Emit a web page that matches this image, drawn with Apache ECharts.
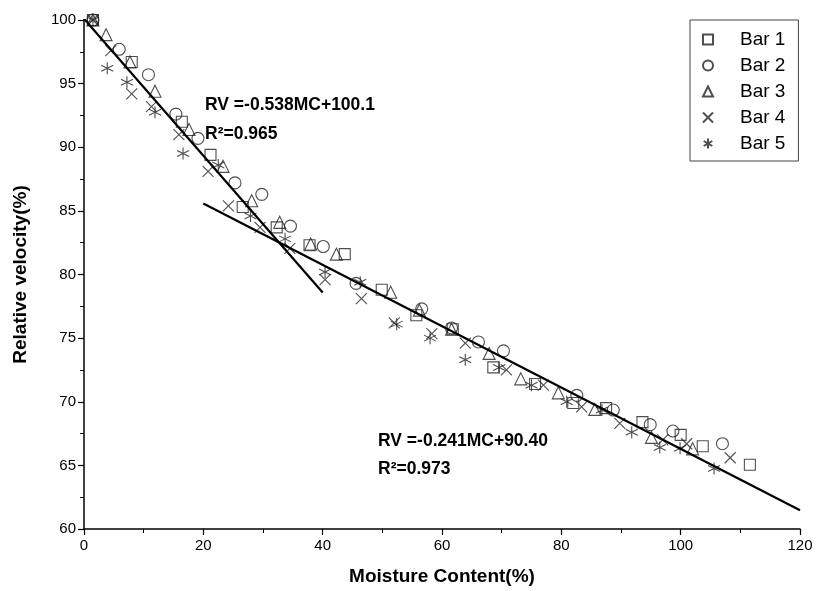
<!DOCTYPE html>
<html>
<head>
<meta charset="utf-8">
<script src="https://cdn.jsdelivr.net/npm/echarts@6/dist/echarts.min.js"></script>
<style>html,body{margin:0;padding:0;background:#fff}#c{width:817px;height:591px}</style>
</head>
<body>
<div id="c"></div>
<script>
var seriesNames = ['Bar 1', 'Bar 2', 'Bar 3', 'Bar 4', 'Bar 5'];
var bar1 = [[1.5,100],[8.0,96.7],[16.4,92.0],[21.2,89.4],[26.6,85.3],[32.3,83.7],[37.8,82.3],[43.7,81.6],[49.9,78.8],[55.7,76.8],[61.8,75.7],[68.6,72.7],[75.6,71.4],[82.0,69.9],[87.5,69.5],[93.6,68.4],[100.0,67.4],[103.7,66.5],[111.6,65.05]];
var bar2 = [[1.5,100],[5.9,97.7],[10.8,95.7],[15.4,92.6],[19.1,90.7],[25.3,87.2],[29.8,86.3],[34.6,83.8],[40.1,82.2],[45.6,79.3],[56.6,77.3],[61.6,75.8],[66.1,74.7],[70.3,74.0],[82.6,70.5],[88.7,69.35],[94.9,68.2],[98.7,67.7],[107.0,66.7]];
var bar3 = [[1.5,100],[3.7,98.85],[7.7,96.7],[11.9,94.4],[17.6,91.4],[23.3,88.5],[28.1,85.8],[32.8,84.1],[38.0,82.4],[42.3,81.6],[51.4,78.6],[56.2,77.2],[61.6,75.7],[67.9,73.8],[73.2,71.8],[79.5,70.7],[85.6,69.4],[95.1,67.2],[102.0,66.3]];
var bar4 = [[1.5,100],[4.5,97.6],[8.0,94.2],[11.3,93.2],[15.9,91.0],[20.8,88.1],[24.2,85.4],[29.5,83.7],[34.5,82.05],[40.4,79.6],[46.5,78.1],[52.0,76.2],[58.3,75.35],[63.9,74.6],[70.8,72.5],[77.0,71.3],[83.4,69.6],[89.8,68.3],[97.0,67.0],[101.0,66.7],[108.3,65.6]];
var bar5 = [[1.5,100],[3.9,96.2],[7.2,95.1],[11.9,92.75],[16.6,89.5],[22.5,88.6],[27.9,84.6],[33.7,82.8],[40.4,80.2],[46.3,79.4],[52.4,76.1],[58.0,75.0],[63.9,73.3],[69.6,72.7],[75.0,71.3],[80.9,70.0],[86.8,69.35],[91.8,67.6],[96.5,66.4],[99.9,66.35],[105.6,64.75]];
// fitted lines (from the printed equations)
var fit1 = [[0,100.1],[40,78.58]];
var fit2 = [[20,85.58],[120,61.48]];
var xTicks = [0,20,40,60,80,100,120];
var yTicks = [60,65,70,75,80,85,90,95,100];

var symbols = ['rect','circle','triangle',
  'path://M0,0L10,10M10,0L0,10',
  'path://M5,0L5,10M0.67,2.5L9.33,7.5M9.33,2.5L0.67,7.5'];
var sizes = [11,12,12,11,12];
var dataSets = [bar1,bar2,bar3,bar4,bar5];
var ink = '#222';

var series = dataSets.map(function(d,i){
  return {
    name: seriesNames[i], type: 'scatter', data: d,
    symbol: symbols[i], symbolSize: sizes[i],
    itemStyle: {color: 'rgba(0,0,0,0)', borderColor: ink, borderWidth: 1.1},
    emphasis: {disabled: true}, z: 3
  };
});
[fit1, fit2].forEach(function(d){
  series.push({type:'line', data:d, symbol:'none', lineStyle:{color:'#000', width:2.2}, z:4, silent:true});
});

var chart = echarts.init(document.getElementById('c'));
var fontT = '"Liberation Sans Narrow","Liberation Sans",Arial,sans-serif';
var fontB = '"Liberation Sans",Arial,sans-serif';
chart.setOption({
  animation: false,
  backgroundColor: '#fff',
  grid: {left: 84, right: 17, top: 20, bottom: 60},
  xAxis: {
    type: 'value', min: 0, max: 120, interval: 20,
    name: 'Moisture Content(%)', nameLocation: 'middle', nameGap: 38,
    nameTextStyle: {fontFamily: fontB, fontWeight: 'bold', fontSize: 19, color: '#000'},
    axisLine: {show: true, onZero: false, lineStyle: {color: '#000', width: 1.5}},
    axisTick: {show: true, length: 6, lineStyle: {color: '#000', width: 1.2}},
    minorTick: {show: true, splitNumber: 2, length: 4, lineStyle: {color: '#000', width: 1}},
    axisLabel: {fontFamily: fontT, fontSize: 15, color: '#000', margin: 9},
    splitLine: {show: false}
  },
  yAxis: {
    type: 'value', min: 60, max: 100, interval: 5,
    name: 'Relative velocity(%)', nameLocation: 'middle', nameGap: 54,
    nameTextStyle: {fontFamily: fontB, fontWeight: 'bold', fontSize: 19, color: '#000'},
    axisLine: {show: true, onZero: false, lineStyle: {color: '#000', width: 1.5}},
    axisTick: {show: true, length: 6, lineStyle: {color: '#000', width: 1.2}},
    minorTick: {show: true, splitNumber: 2, length: 4, lineStyle: {color: '#000', width: 1}},
    axisLabel: {fontFamily: fontT, fontSize: 15, color: '#000', margin: 8},
    splitLine: {show: false}
  },
  legend: {
    data: seriesNames, orient: 'vertical', left: 690, top: 20,
    backgroundColor: '#fff', borderColor: '#444', borderWidth: 1,
    padding: [10, 13, 8, 12], itemGap: 7, itemWidth: 10, itemHeight: 10,
    textStyle: {fontFamily: fontB, fontSize: 19, color: '#000', padding: [0, 0, 0, 22]}
  },
  graphic: [
    {type:'text', left: 205, top: 96, style:{text:'RV =-0.538MC+100.1', fontFamily: fontB, fontWeight:'bold', fontSize:17.5, fill:'#000'}},
    {type:'text', left: 205, top: 125, style:{text:'R²=0.965', fontFamily: fontB, fontWeight:'bold', fontSize:17.5, fill:'#000'}},
    {type:'text', left: 378, top: 432, style:{text:'RV =-0.241MC+90.40', fontFamily: fontB, fontWeight:'bold', fontSize:17.5, fill:'#000'}},
    {type:'text', left: 378, top: 460, style:{text:'R²=0.973', fontFamily: fontB, fontWeight:'bold', fontSize:17.5, fill:'#000'}}
  ],
  series: series
});
</script>
</body>
</html>
